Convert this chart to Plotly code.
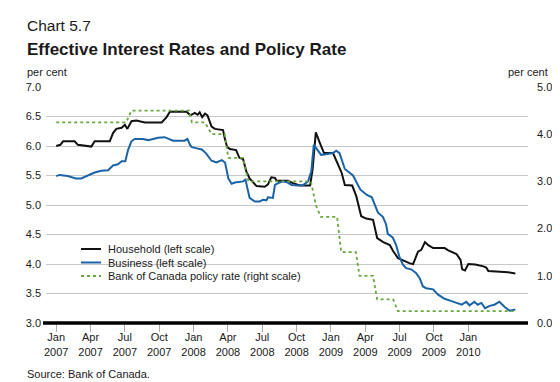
import plotly.graph_objects as go

# ---------------- data ----------------
household_dates = ["2007-01-01","2007-01-11","2007-01-18","2007-02-15","2007-02-23","2007-03-11","2007-03-28","2007-04-05",
    "2007-05-12","2007-05-20","2007-05-28","2007-06-10","2007-06-18","2007-06-24","2007-07-04","2007-07-16","2007-08-06",
    "2007-09-16","2007-09-28","2007-10-06","2007-11-16","2007-11-25","2007-12-06","2007-12-13","2007-12-18","2007-12-24",
    "2007-12-31","2008-01-06","2008-01-16","2008-01-24","2008-02-13","2008-02-17","2008-02-23","2008-03-01","2008-03-16",
    "2008-03-24","2008-04-02","2008-04-10","2008-04-18","2008-05-05","2008-05-25","2008-06-02","2008-06-10","2008-06-19",
    "2008-06-23","2008-07-21","2008-08-02","2008-08-19","2008-09-13","2008-09-19","2008-09-27","2008-10-07","2008-10-17",
    "2008-11-08","2008-11-21","2008-11-29","2008-12-07","2008-12-25","2009-01-04","2009-01-12","2009-01-16","2009-01-28",
    "2009-02-14","2009-02-24","2009-03-11","2009-03-27","2009-04-04","2009-04-16","2009-04-29","2009-05-15","2009-05-23",
    "2009-06-04","2009-06-12","2009-06-21","2009-06-29","2009-07-11","2009-08-08","2009-08-17","2009-09-06","2009-09-16",
    "2009-09-20","2009-09-27","2009-10-05","2009-10-22","2009-11-11","2009-11-18","2009-11-23","2010-01-02","2010-01-10",
    "2010-01-28"]
household_values = [6.00,6.02,6.08,6.08,6.02,6.00,5.99,6.08,6.08,6.22,6.29,6.31,6.36,6.29,6.42,6.43,6.40,6.40,6.49,6.58,
    6.58,6.52,6.56,6.53,6.57,6.49,6.55,6.52,6.33,6.29,6.27,6.14,5.98,5.95,5.93,5.80,5.78,5.57,5.45,5.32,5.31,5.35,5.47,5.46,
    5.41,5.41,5.37,5.33,5.33,5.60,6.23,6.05,5.88,5.88,5.68,5.55,5.34,5.33,5.15,4.95,4.81,4.77,4.75,4.44,4.37,4.32,4.22,4.10,
    4.06,4.01,4.00,4.21,4.24,4.37,4.32,4.27,4.27,4.23,4.17,4.07,3.91,3.89,4.00,3.99,3.96,3.94,3.88,3.87,3.86,3.84]

business_dates = ["2007-01-01","2007-01-09","2007-01-29","2007-02-10","2007-02-18","2007-03-03","2007-03-15","2007-03-23",
    "2007-04-05","2007-04-21","2007-05-08","2007-05-20","2007-06-01","2007-06-10","2007-06-19","2007-06-26","2007-07-04",
    "2007-07-12","2007-08-01","2007-08-14","2007-09-07","2007-09-23","2007-10-06","2007-10-14","2007-11-11","2007-11-18",
    "2007-11-25","2007-11-29","2007-12-11","2007-12-23","2008-01-02","2008-01-16","2008-01-28","2008-02-10","2008-02-18",
    "2008-02-26","2008-03-05","2008-03-13","2008-04-02","2008-04-08","2008-04-18","2008-05-01","2008-05-13","2008-05-21",
    "2008-05-29","2008-06-02","2008-06-14","2008-06-19","2008-06-27","2008-07-09","2008-07-17","2008-07-30","2008-08-15",
    "2008-08-27","2008-09-08","2008-09-16","2008-09-22","2008-10-10","2008-10-22","2008-11-08","2008-11-16","2008-11-24",
    "2008-12-07","2008-12-19","2008-12-27","2009-01-14","2009-01-30","2009-02-11","2009-02-26","2009-03-10","2009-03-18",
    "2009-03-22","2009-04-03","2009-04-11","2009-04-20","2009-04-28","2009-05-06","2009-05-18","2009-05-30","2009-06-08",
    "2009-06-16","2009-06-24","2009-07-11","2009-07-23","2009-08-08","2009-08-25","2009-09-10","2009-09-19","2009-09-30",
    "2009-10-08","2009-10-20","2009-10-28","2009-11-06","2009-11-15","2009-11-26","2009-12-08","2009-12-20","2010-01-02",
    "2010-01-14","2010-01-28"]
business_values = [5.49,5.51,5.49,5.47,5.45,5.45,5.49,5.51,5.55,5.58,5.59,5.67,5.69,5.74,5.74,5.94,6.08,6.12,6.12,6.10,
    6.14,6.15,6.12,6.09,6.09,6.12,6.01,5.98,5.96,5.94,5.88,5.75,5.72,5.76,5.72,5.45,5.36,5.38,5.40,5.43,5.12,5.06,5.06,5.09,
    5.08,5.13,5.12,5.34,5.37,5.40,5.39,5.34,5.33,5.34,5.40,5.57,6.02,5.85,5.86,5.88,5.92,5.88,5.61,5.55,5.50,5.26,5.17,5.13,
    4.87,4.80,4.67,4.51,4.45,4.33,4.11,3.99,3.93,3.91,3.85,3.76,3.62,3.59,3.57,3.48,3.41,3.37,3.34,3.31,3.36,3.30,3.36,3.31,
    3.34,3.25,3.29,3.31,3.36,3.27,3.21,3.23]

policy_dates = ["2007-01-01","2007-06-21","2007-07-04","2007-11-22","2007-11-29","2007-12-31","2008-01-16","2008-02-17",
    "2008-02-26","2008-04-02","2008-04-15","2008-09-15","2008-09-27","2008-10-09","2008-11-18","2008-11-28","2009-01-03",
    "2009-01-12","2009-02-14","2009-02-24","2009-04-04","2009-04-16","2010-01-28"]
policy_values = [4.25,4.25,4.50,4.50,4.25,4.25,4.00,4.00,3.50,3.50,3.00,3.00,2.50,2.25,2.25,1.50,1.50,1.00,1.00,0.50,
    0.50,0.25,0.25]

# the reference labels a tick every 12 weekly observations
tick_dates = ["2007-01-01","2007-03-26","2007-06-18","2007-09-10","2007-12-03","2008-02-25","2008-05-19","2008-08-11",
    "2008-11-03","2009-01-26","2009-04-20","2009-07-13","2009-10-05"]
tick_labels = ["Jan<br>2007","Apr<br>2007","Jul<br>2007","Oct<br>2007","Jan<br>2008","Apr<br>2008","Jul<br>2008",
    "Oct<br>2008","Jan<br>2009","Apr<br>2009","Jul<br>2009","Oct<br>2009","Jan<br>2010"]

series_names = ["Household (left scale)", "Business (left scale)", "Bank of Canada policy rate (right scale)"]

# ---------------- styles ----------------
FONT = "Liberation Sans, Arial, Helvetica, sans-serif"
TXT = "#1a1a1a"
C_HH = "#111111"
C_BUS = "#1a63a6"
C_POL = "#6aa63f"
W, H = 560, 382
ML, MR, MT, MB = 38, 40, 79, 67
PW, PH = W - ML - MR, H - MT - MB

def px_x(p):
    return (p - ML) / PW

def px_y(p):
    return (H - MB - p) / PH

fig = go.Figure()
fig.add_trace(go.Scatter(x=household_dates, y=household_values, mode="lines", name=series_names[0],
                         line=dict(color=C_HH, width=2), yaxis="y"))
fig.add_trace(go.Scatter(x=business_dates, y=business_values, mode="lines", name=series_names[1],
                         line=dict(color=C_BUS, width=2), yaxis="y"))
fig.add_trace(go.Scatter(x=policy_dates, y=policy_values, mode="lines", name=series_names[2],
                         line=dict(color=C_POL, width=1.8, dash="3px,3px"), yaxis="y2"))

shapes = [
    dict(type="line", xref="paper", yref="paper", x0=px_x(35), x1=1, y0=0, y1=0,
         line=dict(color="#000000", width=3.5), layer="above"),
    dict(type="rect", xref="paper", yref="paper", x0=px_x(64), x1=px_x(250), y0=px_y(276), y1=px_y(234),
         fillcolor="white", line=dict(width=0), layer="between"),
]
annotations = []
leg_rows = [241, 254.5, 268]
leg_styles = [dict(color=C_HH, width=2), dict(color=C_BUS, width=2), dict(color=C_POL, width=1.8, dash="3px,3px")]
for name, ry, st in zip(series_names, leg_rows, leg_styles):
    shapes.append(dict(type="line", xref="paper", yref="paper", x0=px_x(73), x1=px_x(93),
                       y0=px_y(ry), y1=px_y(ry), line=st, layer="above"))
    annotations.append(dict(text=name, xref="paper", yref="paper", x=px_x(98), y=px_y(ry),
                            xanchor="left", yanchor="middle", showarrow=False,
                            font=dict(family=FONT, size=11, color=TXT)))

annotations += [
    dict(text="Chart 5.7", xref="paper", yref="paper", x=px_x(17), y=px_y(17), xanchor="left", yanchor="middle",
         showarrow=False, font=dict(family=FONT, size=15.5, color=TXT)),
    dict(text="<b>Effective Interest Rates and Policy Rate</b>", xref="paper", yref="paper", x=px_x(17), y=px_y(41),
         xanchor="left", yanchor="middle", showarrow=False, font=dict(family=FONT, size=17, color=TXT)),
    dict(text="per cent", xref="paper", yref="paper", x=px_x(17), y=px_y(64), xanchor="left", yanchor="middle",
         showarrow=False, font=dict(family=FONT, size=11, color=TXT)),
    dict(text="per cent", xref="paper", yref="paper", x=px_x(542), y=px_y(64), xanchor="right", yanchor="middle",
         showarrow=False, font=dict(family=FONT, size=11, color=TXT)),
    dict(text="Source: Bank of Canada.", xref="paper", yref="paper", x=px_x(17), y=px_y(366), xanchor="left",
         yanchor="middle", showarrow=False, font=dict(family=FONT, size=11, color=TXT)),
]

fig.update_layout(
    width=W, height=H, margin=dict(l=ML, r=MR, t=MT, b=MB, pad=0),
    paper_bgcolor="white", plot_bgcolor="white", showlegend=False,
    font=dict(family=FONT, size=11, color=TXT),
    xaxis=dict(type="date", range=["2006-12-07", "2010-02-28"], tickmode="array", tickvals=tick_dates,
               ticktext=tick_labels, ticks="outside", ticklen=8, tickcolor="#aaaaaa", tickwidth=1,
               ticklabelstandoff=-4,
               showgrid=False, zeroline=False, showline=False, tickfont=dict(family=FONT, size=11, color=TXT)),
    yaxis=dict(range=[3, 7], dtick=0.5, tick0=3, tickformat=".1f", showgrid=True, gridcolor="#c8c8c8", gridwidth=1,
               zeroline=False, showline=False, ticks="", ticklabelstandoff=4,
               tickfont=dict(family=FONT, size=11, color=TXT)),
    yaxis2=dict(range=[0, 5], dtick=1, tick0=0, tickformat=".1f", overlaying="y", side="right", showgrid=False,
                zeroline=False, showline=False, ticks="", ticklabelstandoff=8,
                tickfont=dict(family=FONT, size=11, color=TXT)),
    shapes=shapes, annotations=annotations,
)

fig.write_html("out.html")
